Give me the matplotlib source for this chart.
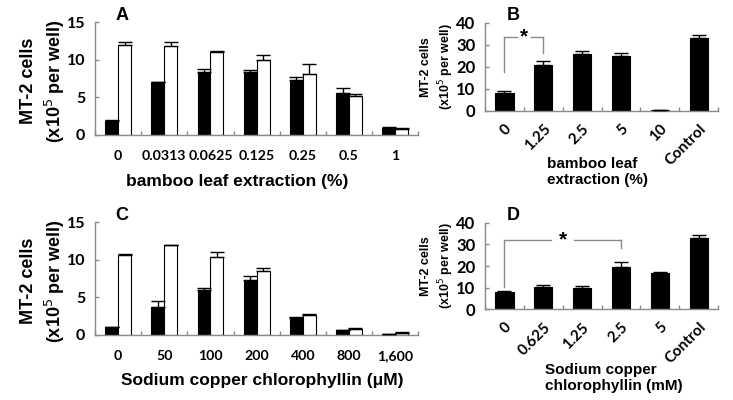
import matplotlib
matplotlib.use("Agg")
import matplotlib.pyplot as plt
import numpy as np

# ---------------- data ----------------
A_cats = ['0', '0.0313', '0.0625', '0.125', '0.25', '0.5', '1']
A_black = [1.9, 7.0, 8.4, 8.3, 7.3, 5.6, 0.9]
A_black_err = [0.1, 0.1, 0.3, 0.3, 0.4, 0.6, 0.1]
A_white = [12.0, 11.8, 11.0, 9.9, 8.1, 5.2, 0.8]
A_white_err = [0.4, 0.5, 0.2, 0.7, 1.3, 0.3, 0.1]

C_cats = ['0', '50', '100', '200', '400', '800', '1,600']
C_black = [1.0, 3.7, 6.0, 7.3, 2.2, 0.6, 0.1]
C_black_err = [0.1, 0.8, 0.2, 0.5, 0.2, 0.1, 0.05]
C_white = [10.6, 11.9, 10.3, 8.5, 2.6, 0.8, 0.3]
C_white_err = [0.2, 0.05, 0.7, 0.4, 0.2, 0.1, 0.05]

B_cats = ['0', '1.25', '2.5', '5', '10', 'Control']
B_vals = [8.0, 21.0, 25.6, 25.0, 0.15, 32.9]
B_err = [0.9, 1.5, 1.4, 1.1, 0.0, 1.5]

D_cats = ['0', '0.625', '1.25', '2.5', '5', 'Control']
D_vals = [7.8, 10.3, 9.7, 19.8, 16.7, 32.8]
D_err = [0.8, 0.8, 1.0, 2.0, 0.7, 1.5]

# ---------------- style ----------------
TICKF = 'Lato'
LABF = 'Liberation Sans'
GRAY = '#8a8a8a'

fig = plt.figure(figsize=(7.33, 4.0), dpi=100)


def style_axes(ax, n, ymax, ystep, ytickfs):
    for s in ['top', 'right']:
        ax.spines[s].set_visible(False)
    for s in ['left', 'bottom']:
        ax.spines[s].set_color(GRAY)
        ax.spines[s].set_linewidth(1.0)
    ax.set_xlim(-0.5, n - 0.5)
    ax.set_ylim(0, ymax)
    ax.set_yticks(np.arange(0, ymax + 0.1, ystep))
    ax.tick_params(axis='y', direction='in', length=3, color=GRAY, width=1,
                   labelsize=ytickfs, pad=7)
    ax.set_xticks(np.arange(-0.5, n, 1.0), minor=True)
    ax.tick_params(axis='x', which='minor', direction='in', length=3, color=GRAY, width=1)
    ax.tick_params(axis='x', which='major', length=0)
    for lab in ax.get_yticklabels():
        lab.set_fontfamily(TICKF)
        lab.set_fontweight('bold')


def grouped(ax, cats, black, black_err, white, white_err):
    n = len(cats)
    x = np.arange(n)
    w = 0.28
    ax.bar(x - w / 2, black, w, color='black', edgecolor='black', linewidth=0.8, zorder=2)
    ax.bar(x + w / 2, white, w, color='white', edgecolor='black', linewidth=0.8, zorder=2)
    ax.errorbar(x - w / 2, black, yerr=[np.zeros(n), black_err], fmt='none',
                ecolor='black', elinewidth=1, capsize=5, capthick=1, zorder=3)
    ax.errorbar(x + w / 2, white, yerr=[np.zeros(n), white_err], fmt='none',
                ecolor='black', elinewidth=1, capsize=5, capthick=1, zorder=3)
    style_axes(ax, n, 15, 5, 11.5)
    ax.set_xticks(x)
    ax.set_xticklabels(cats, fontfamily=TICKF, fontweight='bold', fontsize=10.2)
    ax.tick_params(axis='x', which='major', pad=11)


def single(ax, cats, vals, err):
    n = len(cats)
    x = np.arange(n)
    w = 0.47
    ax.bar(x, vals, w, color='black', edgecolor='black', linewidth=0.8, zorder=2)
    ax.errorbar(x, vals, yerr=[np.zeros(n), err], fmt='none',
                ecolor='black', elinewidth=1, capsize=5, capthick=1, zorder=3)
    style_axes(ax, n, 40, 10, 12)
    ax.set_xticks(x)
    ax.set_xticklabels(cats, fontfamily=TICKF, fontweight='bold', fontsize=11,
                       rotation=45, ha='right', rotation_mode='anchor')
    ax.tick_params(axis='x', which='major', pad=8)


def bracket(ax, x0, x1, y0, ytop, y1, xstar, gap):
    kw = dict(color=GRAY, lw=1.0, zorder=4)
    ax.plot([x0, x0], [y0, ytop], **kw)
    ax.plot([x1, x1], [y1, ytop], **kw)
    ax.plot([x0, xstar - gap], [ytop, ytop], **kw)
    ax.plot([xstar + gap, x1], [ytop, ytop], **kw)
    ax.text(xstar, ytop, '*', ha='center', va='center', fontsize=15,
            fontweight='bold', fontfamily=LABF)


# Panel A
axA = fig.add_axes([0.1296, 0.6625, 0.441, 0.2825])
grouped(axA, A_cats, A_black, A_black_err, A_white, A_white_err)
axA.set_xlabel('bamboo leaf extraction (%)', fontfamily=LABF, fontweight='bold',
               fontsize=12.5)
axA.xaxis.set_label_coords((237 - 95) / 323, -0.345)
fig.text(0.059, 0.7975, 'MT-2 cells\n(x10$^{5}$ per well)', rotation=90, ha='center',
         va='center', fontfamily=LABF, fontweight='bold', fontsize=13, linespacing=1.35)
fig.text(122 / 733, 1 - 15 / 400, 'A', ha='center', va='center', fontfamily=LABF,
         fontweight='bold', fontsize=13)

# Panel C
axC = fig.add_axes([0.1296, 0.1625, 0.441, 0.2825])
grouped(axC, C_cats, C_black, C_black_err, C_white, C_white_err)
axC.set_xlabel('Sodium copper chlorophyllin (μM)', fontfamily=LABF, fontweight='bold',
               fontsize=12.5)
axC.xaxis.set_label_coords((262 - 95) / 323, -0.335)
fig.text(0.059, 0.2975, 'MT-2 cells\n(x10$^{5}$ per well)', rotation=90, ha='center',
         va='center', fontfamily=LABF, fontweight='bold', fontsize=13, linespacing=1.35)
fig.text(122 / 733, 1 - 215 / 400, 'C', ha='center', va='center', fontfamily=LABF,
         fontweight='bold', fontsize=13)

# Panel B
axB = fig.add_axes([0.6617, 0.723, 0.318, 0.22])
single(axB, B_cats, B_vals, B_err)
bracket(axB, 0, 1, 17.7, 33.4, 26.4, 0.5, 0.18)
fig.text(546.7 / 733, 1 - 172 / 400, 'bamboo leaf\nextraction (%)', ha='left',
         va='center', fontfamily=LABF, fontweight='bold', fontsize=11, linespacing=1.25)
fig.text(438 / 733, 1 - 67 / 400, 'MT-2 cells\n(x10$^{5}$ per well)', rotation=90,
         ha='center', va='center', fontfamily=LABF, fontweight='bold', fontsize=9,
         linespacing=1.35)
fig.text(513 / 733, 1 - 15 / 400, 'B', ha='center', va='center', fontfamily=LABF,
         fontweight='bold', fontsize=13)

# Panel D
axD = fig.add_axes([0.6617, 0.2268, 0.318, 0.216])
single(axD, D_cats, D_vals, D_err)
bracket(axD, 0, 3, 10.2, 32.0, 28.6, 1.5, 0.3)
fig.text(545 / 733, 1 - 378 / 400, 'Sodium copper\nchlorophyllin (mM)', ha='left',
         va='center', fontfamily=LABF, fontweight='bold', fontsize=11, linespacing=1.25)
fig.text(438 / 733, 1 - 266 / 400, 'MT-2 cells\n(x10$^{5}$ per well)', rotation=90,
         ha='center', va='center', fontfamily=LABF, fontweight='bold', fontsize=9,
         linespacing=1.35)
fig.text(513 / 733, 1 - 215 / 400, 'D', ha='center', va='center', fontfamily=LABF,
         fontweight='bold', fontsize=13)

fig.savefig('out.png', dpi=100)
